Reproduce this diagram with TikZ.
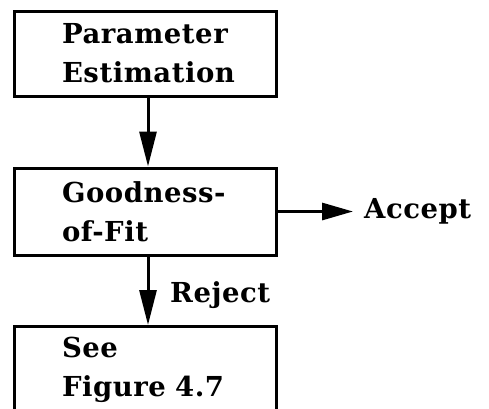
\documentclass[tikz,border=0pt]{standalone}
\usepackage{fontspec}
\setmainfont{DejaVu Serif}[LetterSpace=2]
\usetikzlibrary{arrows.meta}
\tikzset{
  box/.style={draw, line width=3pt, rectangle, align=left, text width=166pt,
    inner xsep=48pt, inner ysep=0pt, minimum height=85pt,
    font=\fontsize{27.5}{39}\selectfont\bfseries},
  lbl/.style={inner sep=0pt, font=\fontsize{27.5}{39}\selectfont\bfseries},
  arr/.style={line width=3pt, -{Triangle[length=35pt,width=17pt]}},
}
\begin{document}
\begin{tikzpicture}[x=1pt,y=-1pt]
\useasboundingbox (0,0) rectangle (489,408);
\node[box] (par) at (145,53.5) {Parameter\\Estimation};
\node[box, minimum height=87pt] (gof) at (145,211.5) {Goodness-\\of-Fit};
\node[box, minimum height=87pt, anchor=north] (see) at (145,325) {See\\Figure 4.7};
\node[lbl, anchor=west] (acc) at (364,211.5) {Accept};
\node[lbl, anchor=base west] (rej) at (170,302) {Reject};
\draw[arr] ([xshift=3pt]par.south) -- ([xshift=3pt]gof.north);
\draw[arr] ([xshift=3pt]gof.south) -- ([xshift=3pt]see.north);
\draw[arr, -{Triangle[length=31pt,width=17pt]}, shorten >=11pt] (gof) -- (acc);
\end{tikzpicture}
\end{document}
